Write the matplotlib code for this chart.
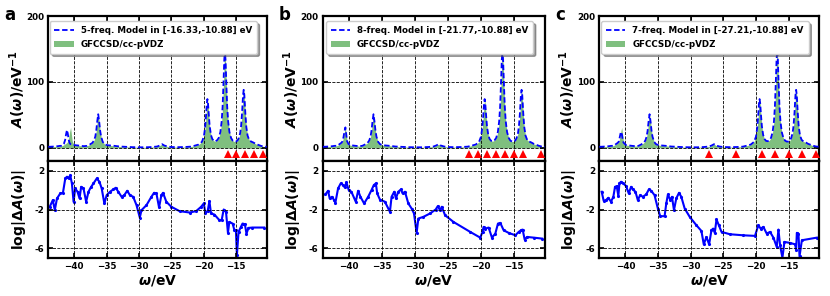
import matplotlib
matplotlib.use("Agg")
import matplotlib.pyplot as plt

plt.rcParams["font.family"] = "DejaVu Sans"
plt.rcParams["font.weight"] = "bold"
plt.rcParams["mathtext.fontset"] = "custom"
plt.rcParams["mathtext.rm"] = "DejaVu Sans:bold"
plt.rcParams["mathtext.it"] = "DejaVu Sans:italic:bold"
plt.rcParams["mathtext.bf"] = "DejaVu Sans:bold"

# ---- reference spectrum GFCCSD/cc-pVDZ ----
ref_x = [-44.0, -43.0, -42.5, -42.2, -41.9, -41.6, -41.4, -41.25, -41.12, -41.0,
         -40.85, -40.7, -40.56, -40.45, -40.3, -40.1, -39.85, -39.4, -39.0, -38.5,
         -38.0, -37.6, -37.2, -36.95, -36.75, -36.6, -36.45, -36.3, -36.15, -36.0,
         -35.85, -35.6, -35.3, -34.9, -34.4, -33.8, -33.0, -32.0, -31.0, -30.0,
         -29.0, -28.0, -27.2, -26.8, -26.43, -26.1, -25.6, -25.0, -24.0, -23.0,
         -22.0, -21.5, -20.8, -20.3, -20.0, -19.8, -19.65, -19.55, -19.45, -19.35,
         -19.25, -19.1, -18.9, -18.7, -18.45, -18.2, -17.95, -17.7, -17.45, -17.25,
         -17.1, -16.95, -16.85, -16.75, -16.65, -16.55, -16.4, -16.25, -16.05, -15.8,
         -15.55, -15.3, -15.05, -14.8, -14.6, -14.4, -14.25, -14.1, -13.95, -13.85,
         -13.75, -13.6, -13.45, -13.25, -13.0, -12.7, -12.35, -12.0, -11.6, -11.2,
         -10.8, -10.3]
ref_y = [1.5, 2, 2.5, 3, 3, 4.5, 6, 7, 8, 10,
         16, 25, 31, 22, 10, 6, 4, 3.5, 3, 2.5,
         3, 5, 7.5, 11, 17, 26, 40, 51, 40, 26,
         17, 9, 5.5, 4, 3.5, 3, 2, 1.5, 1, 0.8,
         0.8, 1.2, 2, 3.5, 5.5, 3.5, 2, 1.2, 1, 1.2,
         1.8, 3, 5, 9, 17, 31, 50, 66, 74, 67,
         52, 33, 19.5, 13.5, 10.5, 10, 11.5, 15, 24, 40,
         63, 103, 133, 148, 133, 103, 63, 40, 24, 15,
         11, 9.5, 9.5, 11, 15, 22, 33, 53, 80, 88,
         80, 53, 32, 18.5, 12, 9.5, 8, 6, 4.5, 3,
         2, 1.5]

# model spectra: same as reference except where noted
model_a_fix = {-41.9: 3, -41.6: 6, -41.4: 12, -41.25: 21, -41.12: 27, -41.0: 22,
               -40.85: 12, -40.7: 7, -40.56: 5.5, -40.45: 5, -40.3: 5, -40.1: 4.5}
model_b_fix = {}
model_c_fix = {-40.85: 17, -40.7: 24, -40.56: 22, -40.45: 15, -40.3: 8}

# fitting frequencies (red triangles)
freq_a = [-16.33, -14.97, -13.61, -12.24, -10.88]
freq_b = [-21.77, -20.41, -19.05, -17.69, -16.33, -14.97, -13.61, -10.88]
freq_c = [-27.21, -23.13, -19.05, -17.01, -14.97, -12.93, -10.88]

labels = ["5-freq. Model in [-16.33,-10.88] eV",
          "8-freq. Model in [-21.77,-10.88] eV",
          "7-freq. Model in [-27.21,-10.88] eV"]

# ---- log|dA| curves ----
err_a_x = [-43.78, -43.3, -43.0, -42.66, -42.15, -41.74, -41.38, -41.12, -40.87, -40.61,
           -40.36, -40.1, -39.85, -39.49, -39.18, -38.93, -38.57, -38.16, -37.8, -37.44,
           -37.03, -36.52, -36.11, -35.76, -35.35, -34.99, -34.48, -33.97, -33.6, -33.2,
           -32.69, -32.28, -31.82, -31.41, -30.9, -30.39, -29.88, -29.62, -28.85, -28.09,
           -27.68, -27.32, -26.91, -26.55, -26.3, -25.79, -25.02, -23.74, -22.21, -21.19,
           -20.42, -20.01, -19.75, -19.4, -19.14, -18.89, -18.37, -17.6, -17.25, -16.94,
           -16.58, -16.28, -16.07, -15.56, -15.31, -15.05, -14.9, -14.64, -14.28, -14.03,
           -13.67, -13.42, -13.11, -12.5, -10.7]
err_a_y = [-1.72, -1.03, -2.07, -0.86, -0.34, -0.28, 1.2, 1.38, 1.2, 1.52,
           0.69, -1.2, 0.17, -0.17, -0.86, 0.34, 0.17, -1.2, -0.17, 0.28,
           0.69, 1.2, 0.86, 0.17, -1.38, -0.52, -0.17, 0.07, 0.24, -0.17,
           -0.69, -0.52, -0.07, -0.52, -0.69, -1.55, -2.83, -2.07, -1.55, -0.69,
           -0.28, -0.34, -1.79, -0.52, -0.28, -1.2, -1.72, -2.17, -2.31, -2.17,
           -1.72, -1.38, -2.41, -2.14, -1.14, -2.41, -2.52, -3.1, -3.1, -2.0,
           -2.24, -4.41, -3.28, -3.45, -4.07, -4.14, -6.72, -4.31, -3.79, -3.45,
           -3.52, -4.48, -3.9, -3.86, -3.86]

err_b_x = [-43.6, -43.19, -42.94, -42.59, -42.33, -42.08, -41.67, -41.27, -40.91, -40.66,
           -40.41, -40.05, -39.65, -38.99, -38.63, -38.28, -37.72, -37.11, -36.6, -36.25,
           -35.94, -35.74, -35.33, -34.57, -33.81, -33.56, -33.15, -32.9, -32.55, -32.14,
           -31.89, -31.53, -31.02, -30.52, -30.16, -29.76, -29.5, -28.74, -27.73, -26.87,
           -26.56, -26.21, -25.95, -25.45, -24.18, -21.64, -20.12, -19.77, -19.61, -19.36,
           -18.85, -18.34, -17.83, -17.43, -17.08, -16.57, -15.81, -14.79, -14.29, -13.94,
           -13.69, -13.38, -13.02, -12.01, -10.74]
err_b_y = [-0.45, -0.07, -0.86, -0.69, -0.97, -1.31, 0.17, 0.69, 0.52, 0.28,
           0.79, 0.0, -0.17, -1.2, -0.07, -0.69, -1.38, -0.69, 0.0, 0.52,
           0.69, -0.34, -0.97, -1.2, -2.24, -0.69, -0.17, -0.86, -0.17, 0.07,
           -0.34, -0.17, -1.38, -1.9, -2.41, -4.41, -2.93, -2.76, -2.41, -2.0,
           -1.66, -2.07, -1.72, -2.59, -3.28, -4.31, -4.9, -4.31, -3.79, -3.97,
           -3.86, -4.9, -4.48, -3.45, -3.38, -4.14, -4.41, -4.66, -4.31, -4.14,
           -4.07, -5.1, -4.83, -4.9, -5.0]

err_c_x = [-43.64, -43.33, -42.97, -42.62, -42.21, -41.85, -41.59, -41.33, -41.08, -40.92,
           -40.67, -40.31, -39.9, -39.49, -39.13, -38.87, -38.46, -38.1, -37.74, -37.33,
           -36.82, -36.41, -36.05, -35.54, -35.03, -34.67, -34.0, -33.74, -33.49, -33.13,
           -32.87, -32.56, -32.21, -31.79, -31.44, -30.92, -30.15, -29.13, -28.36, -28.0,
           -27.59, -27.18, -26.82, -26.56, -26.31, -26.05, -25.69, -25.28, -24.0, -21.95,
           -20.15, -19.64, -19.28, -18.87, -18.36, -17.85, -17.33, -16.82, -16.56, -16.31,
           -15.95, -15.64, -14.77, -14.0, -13.85, -13.74, -13.49, -13.33, -12.97, -10.67]
err_c_y = [-0.17, -1.1, -1.03, -0.79, -1.2, -0.69, 0.34, 0.41, -0.62, 0.69,
           0.86, 0.69, 0.41, -0.34, 0.34, 0.07, -0.17, -1.03, -0.52, -0.69,
           -0.45, 0.07, -0.07, -0.52, -1.9, -2.69, -2.69, -1.38, -0.45, -1.03,
           -0.69, -2.07, -0.86, -0.28, -0.69, -1.9, -2.76, -3.62, -4.21, -5.59,
           -4.83, -5.59, -4.14, -3.97, -4.41, -3.03, -3.62, -4.31, -4.55, -4.66,
           -4.72, -3.62, -3.97, -3.79, -4.48, -4.31, -4.9, -5.86, -4.07, -5.69,
           -6.97, -5.34, -5.45, -5.59, -6.21, -4.41, -4.48, -6.83, -5.17, -4.9]

panels = [
    ("a", model_a_fix, freq_a, labels[0], err_a_x, err_a_y),
    ("b", model_b_fix, freq_b, labels[1], err_b_x, err_b_y),
    ("c", model_c_fix, freq_c, labels[2], err_c_x, err_c_y),
]

W, H = 830, 296
lefts = [48.3, 322.7, 599.3]
rights = [266.7, 545.0, 819.3]
y_top, y_mid, y_bot = 16, 161, 258

fig = plt.figure(figsize=(8.3, 2.96), dpi=100)


def style(ax):
    ax.tick_params(direction="in", top=True, right=True, length=3.5, width=1.2,
                   labelsize=6.3, pad=3)
    for s in ax.spines.values():
        s.set_linewidth(1.6)
    ax.grid(True, color="black", linestyle="--", linewidth=0.6)
    ax.set_axisbelow(False)


for i, (letter, fix, freqs, lab, ex, ey) in enumerate(panels):
    l = lefts[i] / W
    w = (rights[i] - lefts[i]) / W
    ax1 = fig.add_axes([l, 1 - y_mid / H, w, (y_mid - y_top) / H])
    ax2 = fig.add_axes([l, 1 - y_bot / H, w, (y_bot - y_mid) / H], sharex=ax1)

    model_y = [fix.get(x, y) for x, y in zip(ref_x, ref_y)]
    ax1.plot(ref_x, model_y, "b--", lw=1.3, dashes=(3, 1.5), label=lab, zorder=3)
    ax1.fill_between(ref_x, 0, ref_y, color="g", alpha=0.5, lw=0,
                     label="GFCCSD/cc-pVDZ", zorder=2)
    ax1.plot(freqs, [-10] * len(freqs), "r^", ms=5.5, mew=0, clip_on=False, zorder=4)
    ax1.set_xlim(-44.0, -10.3)
    ax1.set_ylim(-20, 200)
    ax1.set_yticks([0, 100, 200])
    ax1.set_xticks([-40, -35, -30, -25, -20, -15])
    ax1.tick_params(labelbottom=False)
    style(ax1)
    ax1.set_ylabel(r"$A(\omega)$/eV$^{-1}$", fontsize=10, fontweight="bold")
    ax1.yaxis.set_label_coords(-0.095, 0.5)
    leg = ax1.legend(loc="upper center", fontsize=6.3, shadow=True, fancybox=True,
                     framealpha=1, borderpad=0.55, handlelength=2.2,
                     labelspacing=0.55, bbox_to_anchor=(0.48, 0.995))
    for t in leg.get_texts():
        t.set_fontweight("bold")

    ax2.plot(ex, ey, "b.-", lw=1.5, ms=2.5)
    ax2.set_ylim(-7, 3)
    ax2.set_yticks([2, -2, -6])
    ax2.set_yticklabels(["2", "-2", "-6"])
    style(ax2)
    ax2.set_xlabel(r"$\omega$/eV", fontsize=10, fontweight="bold", labelpad=1)
    ax2.set_ylabel(r"log$|\Delta A(\omega)|$", fontsize=10, fontweight="bold")
    ax2.yaxis.set_label_coords(-0.095, 0.5)

    fig.text(lefts[i] / W - 0.053, 1 - 15 / H, letter, fontsize=12,
             fontweight="bold", ha="left", va="center")

fig.savefig("out.png", dpi=100)
